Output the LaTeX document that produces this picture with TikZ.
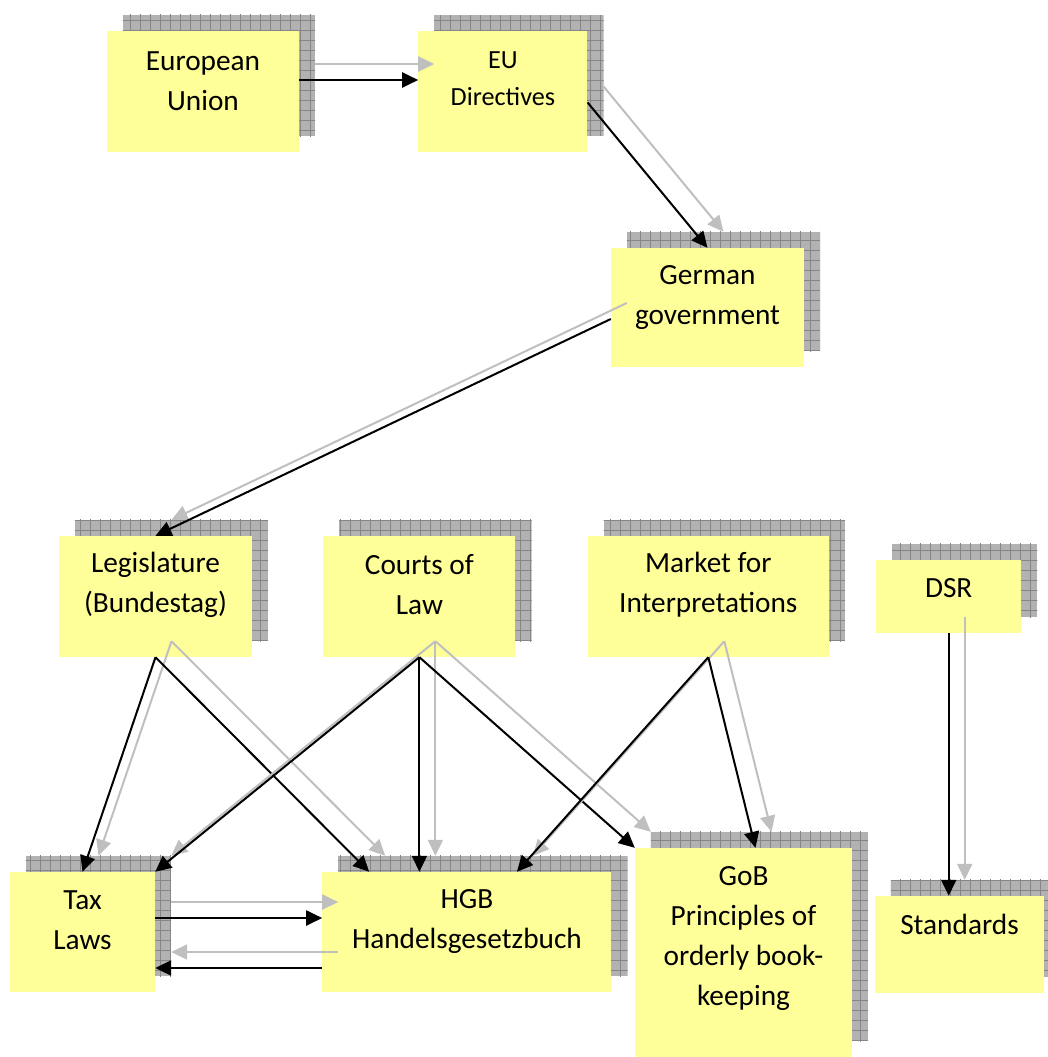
\documentclass[tikz,border=0pt]{standalone}
\usepackage{fontspec}
\setmainfont{Carlito}
\usetikzlibrary{positioning, backgrounds, arrows.meta}
\definecolor{note}{HTML}{FFFF99}

\begin{document}
\begin{tikzpicture}[x=1pt, y=-1pt,
    slip/.style = {fill=note, inner sep=0pt},
    txt/.style = {align=center, inner sep=0pt, font=\fontsize{29.3pt}{40pt}\selectfont},
    link/.style = {line width=2pt, -{Triangle[length=16pt, width=15pt]}},
    shade/.style = {link, gray!50, transform canvas={shift={(16pt,16pt)}}}]
    \useasboundingbox (0,0) rectangle (1048,1057);

    % Boxes
    \node[slip, minimum width=192pt, minimum height=121pt] (eu) at (203,91.5) {};
    \node[slip, minimum width=169pt, minimum height=120pt] (dir) [right=119pt of eu] {};
    \node[slip, minimum width=193pt, minimum height=119pt] (gov) at (707.5,307.5) {};
    \node[slip, minimum width=193pt, minimum height=121pt] (leg) at (155.5,596.5) {};
    \node[slip, minimum width=192pt, minimum height=121pt] (court) [right=71pt of leg] {};
    \node[slip, minimum width=241pt, minimum height=121pt] (market) [right=72pt of court] {};
    \node[slip, minimum width=145pt, minimum height=73pt] (dsr) [right=47pt of market] {};
    \node[slip, minimum width=145pt, minimum height=120pt] (tax) at (82.5,932) {};
    \node[slip, minimum width=289pt, minimum height=120pt] (hgb) [right=167pt of tax] {};
    \node[slip, minimum width=217pt, minimum height=209pt] (gob) at (743.5,952.5) {};
    \node[slip, minimum width=169pt, minimum height=97pt] (std) at (959.5,944.5) {};

    % Texts
    \node[txt] (euT) at ([yshift=10.5pt]eu.center) {European\\Union};
    \node[txt, font=\fontsize{26.2pt}{37pt}\selectfont] (dirT) at ([yshift=13pt]dir.center) {EU\\Directives};
    \node[txt] (govT) at ([yshift=10pt]gov.center) {German\\government};
    \node[txt] (legT) at ([yshift=11.5pt]leg.center) {Legislature\\(Bundestag)};
    \node[txt] (courtT) at ([yshift=12pt]court.center) {Courts of\\Law};
    \node[txt] (marketT) at ([yshift=11.5pt]market.center) {Market for\\Interpretations};
    \node[txt] (dsrT) at ([yshift=8.5pt]dsr.center) {DSR};
    \node[txt] (taxT) at ([yshift=12pt]tax.center) {Tax\\Laws};
    \node[txt] (hgbT) at ([yshift=11pt]hgb.center) {HGB\\Handelsgesetzbuch};
    \node[txt] (gobT) at ([yshift=14pt]gob.center) {GoB\\Principles of\\orderly book-\\keeping};
    \node[txt] (stdT) at ([yshift=20.5pt]std.center) {Standards};

    % Shadows
    \begin{scope}[on background layer]
        \foreach \n in {eu, dir, gov, leg, court, market, dsr, tax, hgb, gob, std} {
            \begin{scope}
                \clip ([shift={(16pt,16pt)}]\n.south west) rectangle ([shift={(16pt,16pt)}]\n.north east);
                \fill[gray!60] ([shift={(16pt,16pt)}]\n.south west) rectangle ([shift={(16pt,16pt)}]\n.north east);
                \draw[gray!95, line width=0.5pt, step=10pt] ([shift={(6pt,6pt)}]\n.south west) grid ([shift={(26pt,26pt)}]\n.north east);
            \end{scope}
        }
    \end{scope}

    % Lines
    \draw[shade] ([yshift=11.5pt]eu.east) -- ([yshift=11.5pt]dir.west);
    \draw[link] ([yshift=11.5pt]eu.east) -- ([yshift=11.5pt]dir.west);
    \draw[shade] ([yshift=-11pt]dir.east) -- (gov.north);
    \draw[link] ([yshift=-11pt]dir.east) -- (gov.north);
    \draw[shade] ([yshift=-11.5pt]gov.west) -- (leg.north);
    \draw[link] ([yshift=-11.5pt]gov.west) -- (leg.north);

    \draw[shade] (leg.south) -- (tax.north);
    \draw[link] (leg.south) -- (tax.north);
    \draw[shade] (leg.south) -- ([xshift=47pt]hgb.north west);
    \draw[link] (leg.south) -- ([xshift=47pt]hgb.north west);

    \draw[shade] (court.south) -- (tax.north east);
    \draw[link] (court.south) -- (tax.north east);
    \draw[shade] (court.south) -- (court.south |- hgb.north);
    \draw[link] (court.south) -- (court.south |- hgb.north);
    \draw[shade] (court.south) -- (gob.north west);
    \draw[link] (court.south) -- (gob.north west);

    \draw[shade] (market.south) -- ([xshift=50pt]hgb.north);
    \draw[link] (market.south) -- ([xshift=50pt]hgb.north);
    \draw[shade] (market.south) -- ([xshift=12pt]gob.north);
    \draw[link] (market.south) -- ([xshift=12pt]gob.north);

    \draw[shade] (dsr.south) -- (dsr.south |- std.north);
    \draw[link] (dsr.south) -- (dsr.south |- std.north);

    \draw[shade] ([yshift=14pt]tax.east) -- ([yshift=14pt]hgb.west);
    \draw[link] ([yshift=14pt]tax.east) -- ([yshift=14pt]hgb.west);
    \draw[shade] ([yshift=-36pt]hgb.west) -- ([yshift=-36pt]tax.east);
    \draw[link] ([yshift=-36pt]hgb.west) -- ([yshift=-36pt]tax.east);
\end{tikzpicture}
\end{document}
